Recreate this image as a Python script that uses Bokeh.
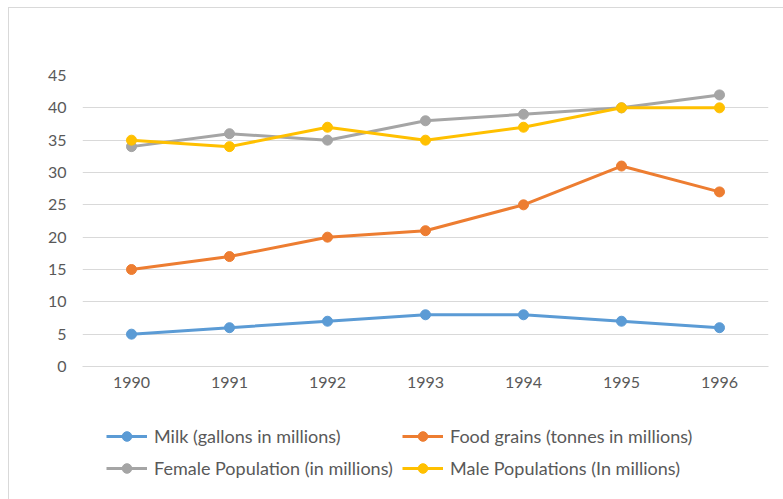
from bokeh.plotting import figure
from bokeh.layouts import column
from bokeh.models import Range1d, FactorRange, FixedTicker, Legend, LegendItem
from bokeh.embed import file_html
from bokeh.resources import INLINE

years = ["1990", "1991", "1992", "1993", "1994", "1995", "1996"]
milk = [5, 6, 7, 8, 8, 7, 6]
food = [15, 17, 20, 21, 25, 31, 27]
female = [34, 36, 35, 38, 39, 40, 42]
male = [35, 34, 37, 35, 37, 40, 40]
y_ticks = [0, 5, 10, 15, 20, 25, 30, 35, 40, 45]

series = [
    ("Milk (gallons in millions)", milk, "#5B9BD5"),
    ("Food grains (tonnes in millions)", food, "#ED7D31"),
    ("Female Population (in millions)", female, "#A5A5A5"),
    ("Male Populations (In millions)", male, "#FFC000"),
]

FONT = "Lato"
TXT = "#595959"

p = figure(width=774, height=392, x_range=FactorRange(*years, range_padding=0),
           y_range=Range1d(0, 45), output_backend="svg", toolbar_location=None,
           min_border_left=73, min_border_right=15, min_border_top=67, min_border_bottom=34)
p.outline_line_color = None

p.yaxis.ticker = FixedTicker(ticks=y_ticks)
p.yaxis.axis_line_color = None
p.yaxis.major_tick_line_color = None
p.yaxis.minor_tick_line_color = None
p.yaxis.major_tick_out = 0
p.yaxis.major_label_standoff = 16
p.yaxis.major_label_text_font = FONT
p.yaxis.major_label_text_font_size = "16px"
p.yaxis.major_label_text_color = TXT

p.xaxis.axis_line_color = "#D9D9D9"
p.xaxis.major_tick_line_color = None
p.xaxis.major_tick_out = 0
p.xaxis.major_label_standoff = 10
p.xaxis.major_label_text_font = FONT
p.xaxis.major_label_text_font_size = "16px"
p.xaxis.major_label_text_color = TXT

p.xgrid.grid_line_color = None
p.ygrid.grid_line_color = "#D9D9D9"
p.ygrid.ticker = FixedTicker(ticks=y_ticks)

for name, vals, col in series:
    p.line(years, vals, line_color=col, line_width=3)
    p.scatter(years, vals, size=10, fill_color=col, line_color=col)

# legend strip below the chart (same series, drawn out of view; only the legend shows)
lg = figure(width=774, height=99, x_range=FactorRange(*years, range_padding=0),
            y_range=Range1d(-100, -99), output_backend="svg", toolbar_location=None,
            x_axis_location=None, y_axis_location=None,
            min_border_left=0, min_border_right=0, min_border_top=0, min_border_bottom=0)
lg.outline_line_color = None
lg.grid.grid_line_color = None

items = {}
for name, vals, col in series:
    r1 = lg.line(years, vals, line_color=col, line_width=3)
    r2 = lg.scatter(years, vals, size=10, fill_color=col, line_color=col)
    items[name] = LegendItem(label=name, renderers=[r1, r2])
order = [series[0][0], series[2][0], series[1][0], series[3][0]]

legend = Legend(items=[items[k] for k in order], ncols=2, location=(24, 19),
                glyph_width=41, glyph_height=24, label_height=24,
                label_standoff=7, label_width=240, spacing=8, padding=0, margin=0,
                label_text_font=FONT, label_text_font_size="18px",
                label_text_color=TXT, border_line_color=None,
                background_fill_alpha=0)
lg.add_layout(legend, "center")

layout = column(p, lg, spacing=0)
layout.styles = {"border-top": "1px solid #d9d9d9", "border-left": "1px solid #d9d9d9",
                 "margin-left": "8px", "margin-top": "7px"}

open("out.html", "w").write(file_html(layout, INLINE))
